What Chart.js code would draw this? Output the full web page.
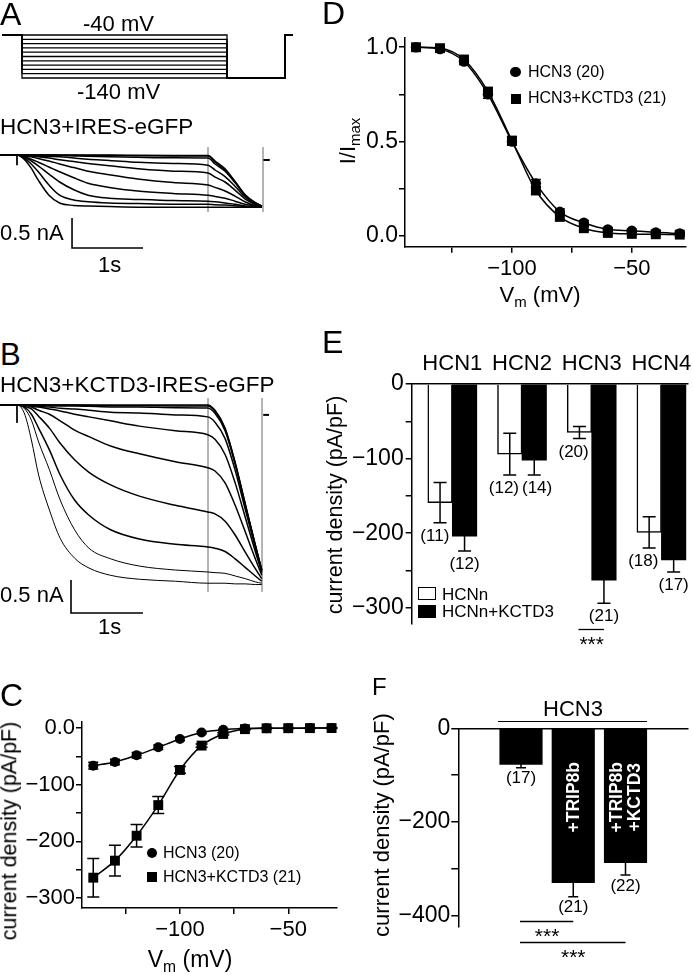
<!DOCTYPE html>
<html><head><meta charset="utf-8"><title>HCN3 / KCTD3 figure</title>
<script src="https://cdn.jsdelivr.net/npm/chart.js@4.4.1/dist/chart.umd.min.js"></script>
<style>
html,body{margin:0;padding:0;background:#fff;}
body{width:693px;height:975px;position:relative;overflow:hidden;font-family:"Liberation Sans",Arial,Helvetica,sans-serif;color:#000;}
canvas{position:absolute;display:block;}
.t{position:absolute;white-space:nowrap;line-height:1;}
.s{font-size:0.68em;position:relative;top:0.32em;}
.mk{position:absolute;background:#000;box-sizing:border-box;}
</style></head><body>
<script>
// ======================= DATA =======================
// Panel A: voltage protocol (mV) and time (s)
const protoLevels = [-40,-50,-60,-70,-80,-90,-100,-110,-120,-130,-140];
const protoHold = -40;
const protoTailV = -140;
const protoTimes = [-0.28, 0, 0, 2.887, 2.887, 3.704, 3.704, 3.817];

// Panel A: HCN3 + IRES-eGFP current traces (nA) sampled at tA (s)
const tA = [-0.24,0,0.1,0.2,0.3,0.45,0.6,0.8,1.0,1.3,1.7,2.2,2.69,2.79,2.93,3.07,3.21,3.35,3.45];
const traceA1  = [0,0,0,0,0,0,0,0,0,0,-0.005,-0.008,-0.01,-0.10,-0.23,-0.44,-0.66,-0.79,-0.85];
const traceA2  = [0,0,0,0,0,0,-0.003,-0.005,-0.007,-0.01,-0.013,-0.015,-0.017,-0.12,-0.25,-0.44,-0.665,-0.79,-0.853];
const traceA3  = [0,0,0,0,0,-0.005,-0.01,-0.015,-0.02,-0.03,-0.038,-0.045,-0.05,-0.15,-0.27,-0.46,-0.67,-0.80,-0.85];
const traceA4  = [0,0,0,-0.01,-0.02,-0.025,-0.03,-0.05,-0.07,-0.09,-0.12,-0.14,-0.17,-0.25,-0.36,-0.52,-0.70,-0.81,-0.86];
const traceA5  = [0,0,-0.01,-0.02,-0.03,-0.05,-0.08,-0.11,-0.14,-0.18,-0.23,-0.27,-0.30,-0.37,-0.45,-0.585,-0.73,-0.82,-0.86];
const traceA6  = [0,0,-0.02,-0.03,-0.06,-0.10,-0.15,-0.21,-0.27,-0.33,-0.40,-0.46,-0.50,-0.54,-0.60,-0.685,-0.78,-0.84,-0.86];
const traceA7  = [0,0,-0.03,-0.07,-0.12,-0.20,-0.28,-0.38,-0.47,-0.54,-0.60,-0.64,-0.67,-0.69,-0.72,-0.77,-0.82,-0.85,-0.87];
const traceA8  = [0,0,-0.03,-0.10,-0.18,-0.32,-0.45,-0.58,-0.67,-0.72,-0.74,-0.76,-0.77,-0.78,-0.80,-0.82,-0.85,-0.86,-0.87];
const traceA9  = [0,0,-0.05,-0.15,-0.28,-0.50,-0.67,-0.75,-0.78,-0.80,-0.81,-0.82,-0.82,-0.83,-0.835,-0.845,-0.86,-0.865,-0.87];
const traceA10 = [0,0,-0.07,-0.22,-0.42,-0.67,-0.80,-0.84,-0.85,-0.86,-0.87,-0.87,-0.87,-0.87,-0.87,-0.87,-0.87,-0.87,-0.87];
const tracesA = [traceA1,traceA2,traceA3,traceA4,traceA5,traceA6,traceA7,traceA8,traceA9,traceA10];

// Panel B: HCN3 + KCTD3-IRES-eGFP current traces (nA) sampled at tB (s)
const tB = [-0.24,0,0.1,0.2,0.3,0.45,0.6,0.8,1.0,1.3,1.7,2.2,2.65,2.75,2.89,3.03,3.17,3.31,3.40];
const traceB1  = [0,0,0,0,0,0,0,0,0,0,0,0,0,-0.08,-0.35,-0.87,-1.5,-2.12,-2.5];
const traceB2  = [0,0,0,0,0,0,0,0,-0.005,-0.01,-0.01,-0.015,-0.015,-0.096,-0.37,-0.88,-1.5,-2.125,-2.5];
const traceB3  = [0,0,0,0,0,-0.01,-0.015,-0.015,-0.02,-0.03,-0.03,-0.04,-0.045,-0.125,-0.39,-0.9,-1.52,-2.13,-2.51];
const traceB4  = [0,0,0,0,-0.02,-0.03,-0.05,-0.06,-0.08,-0.11,-0.12,-0.15,-0.18,-0.26,-0.51,-0.99,-1.58,-2.16,-2.52];
const traceB5  = [0,0,0,-0.02,-0.03,-0.06,-0.09,-0.14,-0.18,-0.24,-0.32,-0.39,-0.45,-0.52,-0.75,-1.18,-1.7,-2.22,-2.54];
const traceB6  = [0,0,0,-0.03,-0.08,-0.14,-0.24,-0.38,-0.48,-0.62,-0.74,-0.86,-0.95,-1.0,-1.18,-1.52,-1.92,-2.33,-2.58];
const traceB7  = [0,0,-0.02,-0.06,-0.17,-0.35,-0.58,-0.83,-1.02,-1.21,-1.38,-1.52,-1.62,-1.65,-1.76,-1.97,-2.23,-2.48,-2.63];
const traceB8  = [0,0,-0.03,-0.14,-0.35,-0.68,-1.06,-1.44,-1.67,-1.89,-2.03,-2.11,-2.15,-2.17,-2.22,-2.33,-2.46,-2.59,-2.67];
const traceB9  = [0,0,-0.05,-0.23,-0.56,-0.98,-1.44,-1.89,-2.17,-2.33,-2.44,-2.5,-2.53,-2.54,-2.55,-2.59,-2.63,-2.68,-2.7];
const traceB10 = [0,0,-0.12,-0.53,-1.06,-1.59,-2.02,-2.32,-2.47,-2.58,-2.64,-2.67,-2.7,-2.7,-2.7,-2.71,-2.71,-2.72,-2.72];
const tracesB = [traceB1,traceB2,traceB3,traceB4,traceB5,traceB6,traceB7,traceB8,traceB9,traceB10];

// Panel C: current density (pA/pF) vs Vm (mV)
const cV = [-140,-130,-120,-110,-100,-90,-80,-70,-60,-50,-40,-30];
const cHCN3 = [-66.5,-60,-48,-34,-19.5,-8,-3,-1,-0.5,-0.3,-0.2,-0.1];
const cHCN3err = [6,5,5,4,3,2,1,1,0.5,0.5,0.5,0.5];
const cKCTD3 = [-264,-234,-190,-136,-74,-31,-10.5,-2,-0.5,-0.3,-0.2,-0.1];
const cKCTD3err = [34,27,20,15,6,3,2,1,0.5,0.5,0.5,0.5];
const cXTicks = [-125,-100,-75,-50];
const cXLabels = ['','\u2212100','','\u221250'];
const cYTicks = [-300,-250,-200,-150,-100,-50,0];
const cYLabels = ['\u2212300','','\u2212200','','\u2212100','','0.0'];

// Panel D: I/Imax vs Vm (mV)
const dV = [-140,-130,-120,-110,-100,-90,-80,-70,-60,-50,-40,-30];
const dHCN3 = [1.0,0.99,0.924,0.75,0.5,0.278,0.127,0.069,0.034,0.027,0.018,0.012];
const dKCTD3 = [1.0,0.995,0.935,0.765,0.505,0.24,0.10,0.04,0.015,0.01,0.008,0.006];
const dErr = [0.012,0.012,0.015,0.02,0.02,0.02,0.015,0.012,0.01,0.008,0.008,0.008];
const dXTicks = [-125,-100,-75,-50];
const dXLabels = ['','\u2212100','','\u221250'];
const dYTicks = [0,0.25,0.5,0.75,1.0];
const dYLabels = ['0.0','','0.5','','1.0'];

// Panel E: current density (pA/pF) per HCN isoform
const eCats = ['HCN1','HCN2','HCN3','HCN4'];
const eHCNn = [-159,-94,-65,-199];
const eHCNnErr = [27,28,8,21];
const eHCNnN = ['(11)','(12)','(20)','(18)'];
const eKCTD3 = [-204,-102,-263,-236];
const eKCTD3Err = [20,20,31,16];
const eKCTD3N = ['(12)','(14)','(21)','(17)'];
const eYTicks = [-300,-250,-200,-150,-100,-50,0];
const eYLabels = ['\u2212300','','\u2212200','','\u2212100','','0'];

// Panel F: HCN3 current density (pA/pF)
const fCats = ['HCN3','HCN3+TRIP8b','HCN3+TRIP8b+KCTD3'];
const fBarText = [[],['+TRIP8b'],['+TRIP8b','+KCTD3']];
const fVals = [-77,-329,-286.5];
const fErr = [7,30,26.5];
const fN = ['(17)','(21)','(22)'];
const fYTicks = [-400,-300,-200,-100,0];
const fYLabels = ['\u2212400','','\u2212200','','0'];

// ======================= RENDERING =======================
const FONT = '"Liberation Sans", Arial, Helvetica, sans-serif';
Chart.defaults.font.family = FONT;
Chart.defaults.color = '#000';

function mk(left, top, w, h) {
  const c = document.createElement('canvas');
  c.width = w; c.height = h;
  c.style.left = left + 'px'; c.style.top = top + 'px';
  c.style.width = w + 'px'; c.style.height = h + 'px';
  document.body.appendChild(c);
  return c;
}
function txt(html, x, base, fs, o = {}) {
  const d = document.createElement('div');
  d.className = 't'; d.innerHTML = html;
  d.style.fontSize = fs + 'px';
  if (o.bold) d.style.fontWeight = 'bold';
  if (o.rot) {
    d.style.left = x + 'px'; d.style.top = base + 'px';
    d.style.transform = 'translate(-50%,-50%) rotate(-90deg)';
  } else {
    d.style.top = (base - 0.8465 * fs) + 'px';
    d.style.left = x + 'px';
    if (o.center) d.style.transform = 'translateX(-50%)';
  }
  document.body.appendChild(d);
  return d;
}
function box(x, y, w, h, o = {}) {
  const d = document.createElement('div');
  d.className = 'mk';
  d.style.left = x + 'px'; d.style.top = y + 'px';
  d.style.width = w + 'px'; d.style.height = h + 'px';
  if (o.round) d.style.borderRadius = '50%';
  if (o.open) { d.style.background = '#fff'; d.style.border = '1.5px solid #000'; }
  document.body.appendChild(d);
}

const base = {
  responsive: false, animation: false, devicePixelRatio: 1, events: [],
  plugins: { legend: { display: false }, tooltip: { enabled: false } }
};

function lineDs(ts, ys, o = {}) {
  return {
    data: ts.map((t, i) => ({ x: t, y: ys[i] })),
    borderColor: o.color || '#000', borderWidth: o.w || 1.4,
    pointRadius: 0, fill: false, clip: false,
    cubicInterpolationMode: o.smooth ? 'monotone' : 'default', tension: 0
  };
}
function seg(pts, color, w) {
  return { data: pts.map(p => ({ x: p[0], y: p[1] })), borderColor: color, borderWidth: w,
           pointRadius: 0, fill: false, tension: 0, clip: false };
}
function hiddenScales(xr, yr) {
  return { x: { type: 'linear', display: false, min: xr[0], max: xr[1] },
           y: { type: 'linear', display: false, min: yr[0], max: yr[1] } };
}

// ---- error bar / label plugins (use the chart's own scales) ----
const errPlugin = {
  id: 'errbars',
  afterDatasetsDraw(chart, args, opts) {
    if (!opts || !opts.sets) return;
    const ctx = chart.ctx, ys = chart.scales.y;
    ctx.save(); ctx.strokeStyle = '#000'; ctx.lineWidth = opts.width || 1.5;
    opts.sets.forEach(s => {
      const meta = chart.getDatasetMeta(s.ds);
      meta.data.forEach((el, i) => {
        const v = chart.data.datasets[s.ds].data[i].y, e = s.err[i];
        if (!e) return;
        const x = el.x, y1 = ys.getPixelForValue(v + e), y2 = ys.getPixelForValue(v - e), c = s.cap / 2;
        ctx.beginPath();
        ctx.moveTo(x, y1); ctx.lineTo(x, y2);
        ctx.moveTo(x - c, y1); ctx.lineTo(x + c, y1);
        ctx.moveTo(x - c, y2); ctx.lineTo(x + c, y2);
        ctx.stroke();
      });
    });
    ctx.restore();
  }
};
const countPlugin = {
  id: 'counts',
  afterDatasetsDraw(chart, args, opts) {
    if (!opts || !opts.sets) return;
    const ctx = chart.ctx, ys = chart.scales.y;
    ctx.save();
    ctx.font = opts.size + 'px ' + FONT; ctx.fillStyle = '#000';
    ctx.textAlign = 'center'; ctx.textBaseline = 'middle';
    const labs = [];
    opts.sets.forEach(s => {
      const meta = chart.getDatasetMeta(s.ds);
      meta.data.forEach((el, i) => {
        const d = chart.data.datasets[s.ds].data[i];
        const w = ctx.measureText(s.text[i]).width;
        let x = el.x;
        if (s.keepLeftOf) x = Math.min(x, el.x + el.width / 2 - 3 - w / 2);
        labs.push({ x, y: ys.getPixelForValue(d.y - s.err[i]) + opts.gap, t: s.text[i], w, g: i });
      });
    });
    for (let i = 0; i < labs.length; i++) for (let j = i + 1; j < labs.length; j++) {
      const a = labs[i], b = labs[j];
      if (a.g !== b.g || Math.abs(a.y - b.y) >= opts.size) continue;
      const [l, r] = a.x <= b.x ? [a, b] : [b, a];
      const need = (l.w + r.w) / 2 + 3;
      if (r.x - l.x < need) r.x = l.x + need;
    }
    labs.forEach(l => ctx.fillText(l.t, l.x, l.y));
    ctx.restore();
  }
};
const sigPlugin = {
  id: 'sig',
  afterDatasetsDraw(chart, args, opts) {
    if (!opts || !opts.items) return;
    const ctx = chart.ctx, ys = chart.scales.y;
    ctx.save(); ctx.strokeStyle = '#000'; ctx.lineWidth = 1.3; ctx.fillStyle = '#000';
    ctx.font = opts.size + 'px ' + FONT; ctx.textAlign = 'center'; ctx.textBaseline = 'alphabetic';
    opts.items.forEach(it => {
      const a = chart.getDatasetMeta(it.d1).data[it.i1].x, b = chart.getDatasetMeta(it.d2).data[it.i2].x;
      const y = Math.round(ys.getPixelForValue(it.y)) + 0.5;
      ctx.beginPath(); ctx.moveTo(a - 1, y); ctx.lineTo(b, y); ctx.stroke();
      ctx.fillText(it.text, (a + b) / 2, y + opts.dy);
    });
    ctx.restore();
  }
};
const inBarPlugin = {
  id: 'inbar',
  afterDatasetsDraw(chart, args, opts) {
    if (!opts || !opts.texts) return;
    const ctx = chart.ctx, ys = chart.scales.y, meta = chart.getDatasetMeta(0);
    ctx.save(); ctx.fillStyle = '#fff'; ctx.font = 'bold ' + opts.size + 'px ' + FONT;
    ctx.textAlign = 'center'; ctx.textBaseline = 'middle';
    opts.texts.forEach((lines, i) => {
      if (!lines.length) return;
      const x = meta.data[i].x, y = ys.getPixelForValue(opts.centerValue);
      ctx.save(); ctx.translate(x, y); ctx.rotate(-Math.PI / 2);
      lines.forEach((s, k) => ctx.fillText(s, 0, (k - (lines.length - 1) / 2) * opts.lineGap + 1));
      ctx.restore();
    });
    ctx.restore();
  }
};

function axis(min, max, ticks, labels, fitKey, fitVal, o = {}) {
  return {
    type: 'linear', min, max, position: o.position, offset: false,
    afterBuildTicks: s => { s.ticks = ticks.map(v => ({ value: v })); },
    afterFit: s => { s[fitKey] = fitVal; },
    ticks: { display: o.showTicks !== false, autoSkip: false, maxRotation: 0, minRotation: 0,
             font: { size: o.fs || 22, family: FONT }, color: '#000', padding: o.pad ?? 2,
             callback: (v, i) => labels[i] },
    grid: { offset: false, drawOnChartArea: false, drawTicks: o.drawTicks !== false, tickLength: o.tl ?? 6,
            color: '#000', lineWidth: 1.5, tickColor: o.tickColor || '#000' },
    border: { display: true, color: '#000', width: 1.5 }
  };
}

// ---------- Panel A: protocol ----------
{
  const cv = mk(0, 25, 300, 60);
  const ds = protoLevels.map(v => lineDs(protoTimes, [protoHold, protoHold, v, v, protoTailV, protoTailV, protoHold, protoHold], { w: 1.3 }));
  new Chart(cv, { type: 'line', data: { datasets: ds },
    options: { ...base, layout: { padding: 0 }, scales: hiddenScales([-0.31, 3.915], [-156.28, -16.74]) } });
}
// ---------- Panel A: traces ----------
{
  const cv = mk(0, 140, 280, 115);
  const ds = tracesA.map(tr => lineDs(tA, tr, { smooth: true, w: 1.5 }));
  ds.push(seg([[0, 0], [0, -0.17]], '#000', 1));
  ds.push(seg([[3.47, -0.083], [3.56, -0.083]], '#000', 2));
  ds.push(seg([[0.775, -1.05], [0.775, -1.55], [1.775, -1.55]], '#000', 1.6));
  ds.push(seg([[2.69, 0.133], [2.69, -0.95]], '#aaa', 1));
  ds.push(seg([[3.465, 0.133], [3.465, -0.95]], '#aaa', 1));
  new Chart(cv, { type: 'line', data: { datasets: ds },
    options: { ...base, layout: { padding: 0 }, scales: hiddenScales([-0.2394, 3.704], [-1.6667, 0.25]) } });
}
// ---------- Panel B: traces ----------
{
  const cv = mk(0, 395, 280, 230);
  const ds = tracesB.map((tr, i) => lineDs(tB, tr, { smooth: true, w: i >= 8 ? 1.0 : 1.5 }));
  ds.push(seg([[0, 0], [0, -0.27]], '#000', 1));
  ds.push(seg([[3.42, -0.15], [3.5, -0.15]], '#000', 2));
  ds.push(seg([[0.75, -2.652], [0.75, -3.152], [1.75, -3.152]], '#000', 1.6));
  ds.push(seg([[2.653, 0.106], [2.653, -2.83]], '#aaa', 1));
  ds.push(seg([[3.403, 0.106], [3.403, -2.83]], '#aaa', 1));
  new Chart(cv, { type: 'line', data: { datasets: ds },
    options: { ...base, layout: { padding: 0 }, scales: hiddenScales([-0.2361, 3.653], [-3.333, 0.1515]) } });
}
// ---------- Panel C ----------
{
  const cv = mk(0, 700, 345, 250);
  new Chart(cv, { type: 'line',
    data: { datasets: [
      { data: cV.map((v, i) => ({ x: v, y: cHCN3[i] })), borderColor: '#000', borderWidth: 1.5,
        pointStyle: 'circle', pointRadius: 5, pointBackgroundColor: '#000', pointBorderWidth: 0,
        cubicInterpolationMode: 'monotone', clip: false },
      { data: cV.map((v, i) => ({ x: v, y: cKCTD3[i] })), borderColor: '#000', borderWidth: 1.5,
        pointStyle: 'rect', pointRadius: 7, pointBackgroundColor: '#000', pointBorderWidth: 0,
        cubicInterpolationMode: 'monotone', clip: false }
    ] },
    options: { ...base,
      layout: { padding: { left: 2, right: 8, top: 22, bottom: 7 } },
      scales: {
        x: axis(-145.2, -27.5, cXTicks, cXLabels, 'height', 35, { position: 'bottom', pad: 3 }),
        y: axis(-317.5, 10.6, cYTicks, cYLabels, 'width', 80, { position: 'left', pad: 1 })
      },
      plugins: { ...base.plugins, errbars: { sets: [{ ds: 0, err: cHCN3err, cap: 10 }, { ds: 1, err: cKCTD3err, cap: 12 }] } }
    },
    plugins: [errPlugin] });
}
// ---------- Panel D ----------
{
  const cv = mk(320, 0, 373, 310);
  new Chart(cv, { type: 'line',
    data: { datasets: [
      { data: dV.map((v, i) => ({ x: v, y: dHCN3[i] })), borderColor: '#000', borderWidth: 1.5,
        pointStyle: 'circle', pointRadius: 5.2, pointBackgroundColor: '#000', pointBorderWidth: 0,
        cubicInterpolationMode: 'monotone', clip: false },
      { data: dV.map((v, i) => ({ x: v, y: dKCTD3[i] })), borderColor: '#000', borderWidth: 1.5,
        pointStyle: 'rect', pointRadius: 7, pointBackgroundColor: '#000', pointBorderWidth: 0,
        cubicInterpolationMode: 'monotone', clip: false }
    ] },
    options: { ...base,
      layout: { padding: { left: 25, right: 5, top: 38, bottom: 28.3 } },
      scales: {
        x: axis(-144.6, -27.4, dXTicks, dXLabels, 'height', 35, { position: 'bottom', pad: 3 }),
        y: axis(-0.058, 1.049, dYTicks, dYLabels, 'width', 60, { position: 'left', pad: 1, fs: 23 })
      },
      plugins: { ...base.plugins, errbars: { sets: [{ ds: 0, err: dErr, cap: 10 }, { ds: 1, err: dErr, cap: 10 }] } }
    },
    plugins: [errPlugin] });
}
// ---------- Panel E ----------
{
  const cv = mk(330, 340, 363, 310);
  new Chart(cv, { type: 'bar',
    data: { datasets: [
      { data: eCats.map((c, i) => ({ x: i + 1, y: eHCNn[i] })), backgroundColor: '#fff', borderColor: '#000',
        borderWidth: 1.5, barThickness: 24.5 },
      { data: eCats.map((c, i) => ({ x: i + 1, y: eKCTD3[i] })), backgroundColor: '#000', borderColor: '#000',
        borderWidth: 0, barThickness: 24.5 }
    ] },
    options: { ...base,
      layout: { padding: { left: 11.7, right: 5, top: 14, bottom: 26.7 } },
      scales: {
        x: axis(0.4175, 4.3817, [1, 2, 3, 4], eCats, 'height', 30, { position: 'top', pad: 0, tl: 7, tickColor: 'rgba(0,0,0,0)' }),
        y: axis(-320.8, 0, eYTicks, eYLabels, 'width', 70, { position: 'left', pad: 2, fs: 23 })
      },
      plugins: { ...base.plugins,
        errbars: { sets: [{ ds: 0, err: eHCNnErr, cap: 13 }, { ds: 1, err: eKCTD3Err, cap: 13 }] },
        counts: { size: 17, gap: 13.5, sets: [{ ds: 0, err: eHCNnErr, text: eHCNnN, keepLeftOf: true }, { ds: 1, err: eKCTD3Err, text: eKCTD3N }] },
        sig: { size: 21, dy: 21, items: [{ d1: 0, i1: 2, d2: 1, i2: 2, y: -328, text: '***' }] }
      }
    },
    plugins: [errPlugin, countPlugin, sigPlugin] });
}
// ---------- Panel F ----------
{
  const cv = mk(370, 690, 323, 270);
  new Chart(cv, { type: 'bar',
    data: { datasets: [
      { data: fCats.map((c, i) => ({ x: i + 1, y: fVals[i] })), backgroundColor: '#000', borderWidth: 0, barThickness: 42.5 }
    ] },
    options: { ...base,
      layout: { padding: { left: 13.3, right: 5, top: 38.3, bottom: 33.3 } },
      scales: {
        x: axis(-0.2, 4.196, [1, 2, 3], ['', '', ''], 'height', 0, { position: 'top', showTicks: false, drawTicks: false }),
        y: axis(-423, 0, fYTicks, fYLabels, 'width', 75, { position: 'left', pad: 1, tl: 7, fs: 23 })
      },
      plugins: { ...base.plugins,
        errbars: { sets: [{ ds: 0, err: fErr, cap: 10 }] },
        counts: { size: 17, gap: 11, sets: [{ ds: 0, err: fErr, text: fN }] },
        sig: { size: 21, dy: 21, items: [{ d1: 0, i1: 0, d2: 0, i2: 1, y: -411, text: '***' }, { d1: 0, i1: 0, d2: 0, i2: 2, y: -456, text: '***' }] },
        inbar: { texts: fBarText, size: 17.5, centerValue: -147, lineGap: 18 }
      }
    },
    plugins: [errPlugin, countPlugin, sigPlugin, inBarPlugin] });
}

// ======================= TEXT / LEGENDS =======================
// Panel A
txt('A', 0, 25, 32);
txt('-40 mV', 83, 32, 22);
txt('-140 mV', 77, 100, 22);
txt('HCN3+IRES-eGFP', 0, 135, 22.5);
txt('0.5 nA', 0, 241, 22);
txt('1s', 98, 273, 22);
// Panel B
txt('B', 0, 365, 31);
txt('HCN3+KCTD3-IRES-eGFP', 0, 393, 22.5);
txt('0.5 nA', 0, 603, 22);
txt('1s', 98, 635, 22);
// Panel C
txt('C', 0, 706, 32);
txt('current density (pA/pF)', 10, 831, 21.5, { rot: true });
txt('V<span class="s">m</span> (mV)', 190, 967, 23, { center: true });
box(146.7, 848, 10, 10, { round: true });
box(146.7, 871.7, 10, 10);
txt('HCN3 (20)', 163, 858.5, 16);
txt('HCN3+KCTD3 (21)', 163, 882.5, 16);
// Panel D
txt('D', 322, 24, 32);
txt('I/I<span class="s">max</span>', 348, 141, 22, { rot: true });
txt('V<span class="s">m</span> (mV)', 540, 303, 22, { center: true });
box(510.3, 66.7, 10.4, 10.4, { round: true });
box(510.7, 94, 10, 10);
txt('HCN3 (20)', 528, 77.5, 16);
txt('HCN3+KCTD3 (21)', 528, 104, 16);
// Panel E
txt('E', 322, 353, 32);
txt('current density (pA/pF)', 336, 505, 21.5, { rot: true });
box(418.3, 586.5, 18, 13, { open: true });
box(418.3, 604.5, 18, 13);
txt('HCNn', 442, 600, 17);
txt('HCNn+KCTD3', 442, 617, 17);
// Panel F
txt('F', 372, 695, 24);
txt('current density (pA/pF)', 381.5, 825, 22, { rot: true });
txt('HCN3', 573, 717, 22, { center: true });
{
  const d = document.createElement('div');
  d.style.cssText = 'position:absolute;left:498px;top:720.5px;width:149px;height:1.3px;background:#000;';
  document.body.appendChild(d);
}
</script>
</body></html>
